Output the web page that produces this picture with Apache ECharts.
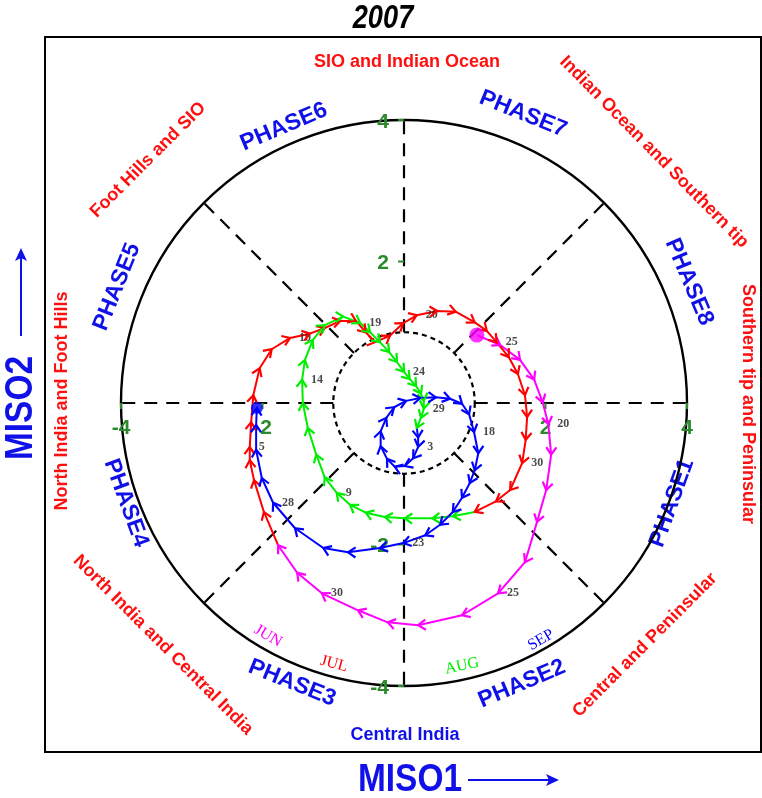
<!DOCTYPE html>
<html>
<head>
<meta charset="utf-8">
<script src="https://cdn.jsdelivr.net/npm/echarts@6/dist/echarts.min.js"></script>
<style>
  html, body { margin: 0; padding: 0; background: #fff; }
  #chart { width: 762px; height: 798px; }
</style>
</head>
<body>
<div id="chart"></div>
<script>
// MISO1 / MISO2 phase-space trajectory of the 2007 summer monsoon.
// Each month is a list of daily [MISO1, MISO2] states.

const junPts = [
  [1.03, 0.96], [1.36, 0.82], [1.64, 0.61], [1.84, 0.33], [1.96, 0.01],
  [2.04, -0.30], [2.08, -0.73], [2.01, -1.23], [1.88, -1.68], [1.71, -2.25],
  [1.33, -2.69], [0.82, -3.00], [0.20, -3.14], [-0.23, -3.10], [-0.65, -2.93],
  [-1.16, -2.69], [-1.51, -2.40], [-1.78, -2.01]
];
const julPts = [
  [-1.78, -2.01], [-1.98, -1.54], [-2.12, -1.09], [-2.18, -0.81], [-2.18, -0.62],
  [-2.16, -0.27], [-2.13, 0.11], [-2.04, 0.49], [-1.87, 0.76], [-1.61, 0.92],
  [-1.33, 0.98], [-1.12, 1.06], [-0.90, 1.16], [-0.68, 1.16], [-0.54, 1.00],
  [-0.41, 0.86], [-0.20, 0.95], [-0.01, 1.13], [0.18, 1.24], [0.47, 1.30],
  [0.73, 1.29], [1.00, 1.14], [1.17, 1.02], [1.31, 0.86], [1.48, 0.65],
  [1.61, 0.41], [1.71, 0.11], [1.74, -0.20], [1.72, -0.52], [1.67, -0.85],
  [1.50, -1.23], [1.30, -1.39], [1.00, -1.54]
];
const augPts = [
  [1.00, -1.54], [0.69, -1.60], [0.40, -1.63], [0.01, -1.63], [-0.27, -1.61],
  [-0.54, -1.55], [-0.76, -1.44], [-0.95, -1.27], [-1.12, -1.05], [-1.24, -0.73],
  [-1.36, -0.35], [-1.43, 0.00], [-1.44, 0.33], [-1.40, 0.61], [-1.29, 0.89],
  [-1.12, 1.10], [-0.86, 1.22], [-0.62, 1.13], [-0.48, 1.00], [-0.34, 0.86],
  [-0.21, 0.72], [-0.10, 0.58], [0.00, 0.44], [0.08, 0.34], [0.17, 0.24],
  [0.24, 0.13], [0.28, 0.03], [0.28, -0.08], [0.24, -0.21], [0.18, -0.35]
];
const sepPts = [
  [0.18, -0.35], [0.20, -0.49], [0.20, -0.62], [0.13, -0.78], [0.01, -0.89],
  [-0.13, -0.90], [-0.24, -0.79], [-0.33, -0.61], [-0.33, -0.40], [-0.25, -0.21],
  [-0.14, -0.06], [0.03, 0.03], [0.23, 0.07], [0.45, 0.08], [0.65, 0.06],
  [0.82, -0.01], [0.92, -0.16], [0.99, -0.41], [1.05, -0.71], [1.00, -0.95],
  [0.93, -1.13], [0.82, -1.34], [0.69, -1.54], [0.51, -1.72], [0.30, -1.87],
  [-0.01, -1.98], [-0.34, -2.05], [-0.79, -2.11], [-1.14, -2.05], [-1.54, -1.77],
  [-1.85, -1.41], [-2.01, -1.06], [-2.09, -0.66], [-2.09, -0.31], [-2.08, -0.07]
];

// Day-of-month annotations: [index into the month's list, day]
const junDays = [[5, '20'], [10, '25'], [15, '30']];
const julDays = [[4, '5'], [9, '10'], [18, '20'], [23, '25'], [29, '30']];
const augDays = [[7, '9'], [12, '14'], [17, '19'], [22, '24'], [27, '29']];
const sepDays = [[2, '3'], [17, '18'], [25, '23'], [30, '28']];

const monthNames = ['JUN', 'JUL', 'AUG', 'SEP'];
const monthColors = ['#ff00ff', '#ff0000', '#00ee00', '#0000ff'];

const axisTicks = [-4, -2, 2, 4];
const ringRadii = [1, 4];
const spokeAngles = [0, 45, 90, 135, 180, 225, 270, 315];

const phaseNames = ['PHASE1', 'PHASE2', 'PHASE3', 'PHASE4', 'PHASE5', 'PHASE6', 'PHASE7', 'PHASE8'];
const regionNames = [
  'SIO and Indian Ocean', 'Indian Ocean and Southern tip', 'Southern tip and Peninsular',
  'Central and Peninsular', 'Central India', 'North India and Central India',
  'North India and Foot Hills', 'Foot Hills and SIO'
];

const monthPts = [junPts, julPts, augPts, sepPts];
const monthDays = [junDays, julDays, augDays, sepDays];

const chart = echarts.init(document.getElementById('chart'), null, { renderer: 'canvas' });

const GREEN = '#2b8a2b';
const BLUE = '#1010e8';
const RED = '#ff1010';
const TICK_FONT = 'bold 21px "Liberation Sans", Arial, sans-serif';

// ---- background geometry: rings and phase spokes ----
const ringSeries = {
  type: 'custom',
  z: 1,
  silent: true,
  encode: { x: 0, y: 1 },
  data: ringRadii.map(r => [0, 0, r]),
  renderItem(params, api) {
    const c = api.coord([api.value(0), api.value(1)]);
    const r = api.size([api.value(2), 0])[0];
    const inner = api.value(2) < 2;
    return {
      type: 'circle',
      shape: { cx: c[0], cy: c[1], r: r },
      style: {
        fill: 'none', stroke: '#000',
        lineWidth: inner ? 2.2 : 2.4,
        lineDash: inner ? [5, 4] : null
      }
    };
  }
};

const spokeSeries = {
  type: 'custom',
  z: 1,
  silent: true,
  encode: { x: [0, 2], y: [1, 3] },
  data: spokeAngles.map(a => {
    const t = a * Math.PI / 180;
    return [ringRadii[0] * Math.cos(t), ringRadii[0] * Math.sin(t),
            ringRadii[1] * Math.cos(t), ringRadii[1] * Math.sin(t)];
  }),
  renderItem(params, api) {
    const p0 = api.coord([api.value(0), api.value(1)]);
    const p1 = api.coord([api.value(2), api.value(3)]);
    return {
      type: 'line',
      shape: { x1: p0[0], y1: p0[1], x2: p1[0], y2: p1[1] },
      style: { stroke: '#000', lineWidth: 2.2, lineDash: [13, 9] }
    };
  }
};

// ---- tick marks and labels on the two axes crossing at the origin ----
const tickSeries = {
  type: 'custom',
  z: 2,
  silent: true,
  encode: { x: 0, y: 1 },
  data: axisTicks.map(v => [v, 0, 0]).concat(axisTicks.map(v => [0, v, 1])),
  renderItem(params, api) {
    const p = api.coord([api.value(0), api.value(1)]);
    const onY = api.value(2) === 1;
    const txt = String(onY ? api.value(1) : api.value(0));
    if (onY) {
      return {
        type: 'group',
        children: [
          { type: 'line', shape: { x1: p[0] - 6, y1: p[1], x2: p[0], y2: p[1] },
            style: { stroke: GREEN, lineWidth: 2 } },
          { type: 'text', x: p[0] - 15, y: p[1] + 2,
            style: { text: txt, fill: GREEN, align: 'right', verticalAlign: 'middle', font: TICK_FONT } }
        ]
      };
    }
    return {
      type: 'group',
      children: [
        { type: 'line', shape: { x1: p[0], y1: p[1], x2: p[0], y2: p[1] + 6 },
          style: { stroke: GREEN, lineWidth: 2 } },
        { type: 'text', x: p[0], y: p[1] + 25,
          style: { text: txt, fill: GREEN, align: 'center', verticalAlign: 'middle', font: TICK_FONT } }
      ]
    };
  }
};

// ---- trajectories ----
const series = [ringSeries, spokeSeries, tickSeries];

monthPts.forEach((pts, m) => {
  const color = monthColors[m];
  series.push({
    type: 'line',
    name: monthNames[m],
    data: pts,
    showSymbol: false,
    symbol: 'none',
    z: 3,
    lineStyle: { color: color, width: 2 },
    animation: false
  });
  // arrowheads at every daily state, pointing along the path
  const arrowData = [];
  for (let i = 1; i < pts.length; i++) {
    const prev = pts[i - 1];
    const next = i + 1 < pts.length ? pts[i + 1] : pts[i];
    arrowData.push([pts[i][0], pts[i][1], prev[0], prev[1], next[0], next[1]]);
  }
  series.push({
    type: 'custom',
    z: 5,
    silent: true,
    encode: { x: 0, y: 1 },
    data: arrowData,
    renderItem(params, api) {
      const p = api.coord([api.value(0), api.value(1)]);
      const q = api.coord([api.value(2), api.value(3)]);
      const n = api.coord([api.value(4), api.value(5)]);
      const last = n[0] === p[0] && n[1] === p[1];
      const a1 = Math.atan2(p[1] - q[1], p[0] - q[0]);
      const a2 = Math.atan2(n[1] - p[1], n[0] - p[0]);
      const a = Math.atan2(Math.sin(a1) + (last ? 0 : Math.sin(a2)),
                           Math.cos(a1) + (last ? 0 : Math.cos(a2)));
      const L = 9, w = 0.6;
      return {
        type: 'polyline',
        shape: {
          points: [
            [p[0] - L * Math.cos(a - w), p[1] - L * Math.sin(a - w)],
            [p[0], p[1]],
            [p[0] - L * Math.cos(a + w), p[1] - L * Math.sin(a + w)]
          ]
        },
        style: { stroke: color, fill: 'none', lineWidth: 2.2 }
      };
    }
  });
  // day-of-month labels
  series.push({
    type: 'scatter',
    z: 4,
    silent: true,
    symbolSize: 0,
    data: monthDays[m].map(d => [pts[d[0]][0], pts[d[0]][1], d[1]]),
    label: {
      show: true,
      position: 'right',
      distance: 9,
      formatter: p => p.value[2],
      color: '#1a1a1a',
      fontFamily: 'Liberation Serif',
      fontWeight: 'bold',
      fontSize: 12
    }
  });
});

// start and end states
series.push({
  type: 'scatter', z: 6, silent: true,
  symbolSize: 15,
  itemStyle: { color: monthColors[0] },
  data: [junPts[0]]
});
series.push({
  type: 'scatter', z: 6, silent: true,
  symbolSize: 12,
  itemStyle: { color: monthColors[3] },
  data: [sepPts[sepPts.length - 1]]
});

// ---- annotation text ----
const deg = Math.PI / 180;
const phaseLayout = [
  [672, 503, 70], [522, 684, 23], [292, 683, -22], [126, 503, -70],
  [117, 287, 68], [284, 127, 23], [523, 114, -22], [689, 282, -67]
];
const regionLayout = [
  [407, 62, 0], [654, 152, -45.5], [748, 404, -90], [645, 645, 45],
  [405, 735, 0], [163, 645, -45], [62, 401, 90], [148, 160, 45]
];
const monthLabelLayout = [[268, 636, -30], [334, 664, -15], [462, 666, 12], [541, 640, 30]];

const graphics = [];
graphics.push({
  type: 'rect', z: 0, silent: true,
  shape: { x: 45, y: 37, width: 716, height: 715 },
  style: { fill: 'none', stroke: '#000', lineWidth: 2 }
});
graphics.push({
  type: 'text', x: 383, y: 19, scaleX: 0.8,
  style: {
    text: '2007', fill: '#000', align: 'center', verticalAlign: 'middle',
    font: 'italic bold 34px "Liberation Sans", Arial, sans-serif'
  }
});
phaseNames.forEach((t, i) => {
  const [x, y, r] = phaseLayout[i];
  graphics.push({
    type: 'text', x, y, rotation: r * deg,
    style: {
      text: t, fill: BLUE, align: 'center', verticalAlign: 'middle',
      font: 'bold 23px "Liberation Sans", Arial, sans-serif'
    }
  });
});
regionNames.forEach((t, i) => {
  const [x, y, r] = regionLayout[i];
  graphics.push({
    type: 'text', x, y, rotation: r * deg,
    style: {
      text: t, fill: t === 'Central India' ? BLUE : RED,
      align: 'center', verticalAlign: 'middle',
      font: 'bold 18px "Liberation Sans", Arial, sans-serif'
    }
  });
});
monthNames.forEach((t, i) => {
  const [x, y, r] = monthLabelLayout[i];
  graphics.push({
    type: 'text', x, y, rotation: r * deg,
    style: {
      text: t, fill: monthColors[i], align: 'center', verticalAlign: 'middle',
      font: '16px "Liberation Serif", "Times New Roman", serif'
    }
  });
});
// axis names with arrows
graphics.push({
  type: 'text', x: 410, y: 781, scaleX: 0.88,
  style: {
    text: 'MISO1', fill: BLUE, align: 'center', verticalAlign: 'middle',
    font: 'bold 38px "Liberation Sans", Arial, sans-serif'
  }
});
graphics.push({
  type: 'line', shape: { x1: 468, y1: 780, x2: 556, y2: 780 },
  style: { stroke: BLUE, lineWidth: 2 }
});
graphics.push({
  type: 'polygon', shape: { points: [[559, 780], [546, 774], [549, 780], [546, 786]] },
  style: { fill: BLUE }
});
graphics.push({
  type: 'text', x: 22, y: 408, rotation: 90 * deg, scaleX: 0.88,
  style: {
    text: 'MISO2', fill: BLUE, align: 'center', verticalAlign: 'middle',
    font: 'bold 38px "Liberation Sans", Arial, sans-serif'
  }
});
graphics.push({
  type: 'line', shape: { x1: 21, y1: 336, x2: 21, y2: 251 },
  style: { stroke: BLUE, lineWidth: 2 }
});
graphics.push({
  type: 'polygon', shape: { points: [[21, 248], [15, 261], [21, 258], [27, 261]] },
  style: { fill: BLUE }
});

const axisCommon = {
  type: 'value',
  min: -4, max: 4, interval: 2,
  axisLine: { show: false },
  axisTick: { show: false },
  axisLabel: { show: false },
  splitLine: { show: false }
};

chart.setOption({
  animation: false,
  backgroundColor: '#fff',
  grid: { left: 121, top: 120, width: 566, height: 566, containLabel: false },
  xAxis: axisCommon,
  yAxis: axisCommon,
  series: series,
  graphic: graphics
});
</script>
</body>
</html>
